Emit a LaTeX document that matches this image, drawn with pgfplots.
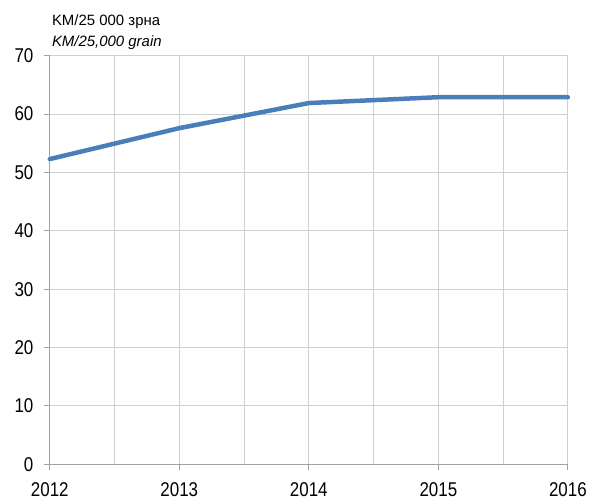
\documentclass[border=0pt]{standalone}
\usepackage{fontspec}
\setmainfont{Liberation Sans}
\newfontfamily\narrowfont[FakeStretch=0.85]{Liberation Sans}
\usepackage{pgfplots}
\pgfplotsset{compat=1.18}

\definecolor{lineblue}{RGB}{74,126,187}
\definecolor{axgray}{RGB}{160,160,160}
\definecolor{gridgray}{RGB}{208,208,208}

\begin{document}
\begin{tikzpicture}
\begin{axis}[
    scale only axis,
    width=520bp, height=410bp,
    xmin=2012, xmax=2016,
    ymin=0, ymax=70,
    xtick={2012,2013,2014,2015,2016},
    minor xtick={2012.5,2013.5,2014.5,2015.5},
    ytick={0,10,...,70},
    xticklabel style={/pgf/number format/1000 sep=},
    /pgf/number format/assume math mode=true,
    ticklabel style={font=\narrowfont\fontsize{20bp}{22bp}\selectfont},
    axis x line=bottom, axis y line=left,
    axis line style={-, axgray, line width=1.3bp},
    major tick length=6bp,
    minor tick length=0pt,
    tick style={axgray, line width=1bp},
    xtick pos=bottom, ytick pos=left,
    tick align=outside,
    grid=both,
    major grid style={gridgray, line width=1bp},
    minor grid style={gridgray, line width=1bp},
    xticklabel shift=9bp,
    yticklabel shift=7bp,
    clip=false,
]
\addplot[lineblue, line width=4.5bp, line join=round, line cap=round] coordinates {
    (2012,52.3)
    (2013,57.6)
    (2014,61.9)
    (2015,62.9)
    (2016,62.9)
};
\node[anchor=base west, inner sep=0pt, font=\fontsize{15bp}{18bp}\selectfont]
    at ([xshift=2bp, yshift=30bp]rel axis cs:0,1) {KM/25 000 зрна};
\node[anchor=base west, inner sep=0pt, font=\fontsize{15bp}{18bp}\selectfont\itshape]
    at ([xshift=2bp, yshift=9bp]rel axis cs:0,1) {KM/25,000 grain};
\pgfresetboundingbox
\path (rel axis cs:0,0) ++(-50bp,-34bp) coordinate (bl);
\path (rel axis cs:1,1) ++(20bp,56bp) coordinate (tr);
\end{axis}
\useasboundingbox (bl) rectangle (tr);
\end{tikzpicture}
\end{document}
